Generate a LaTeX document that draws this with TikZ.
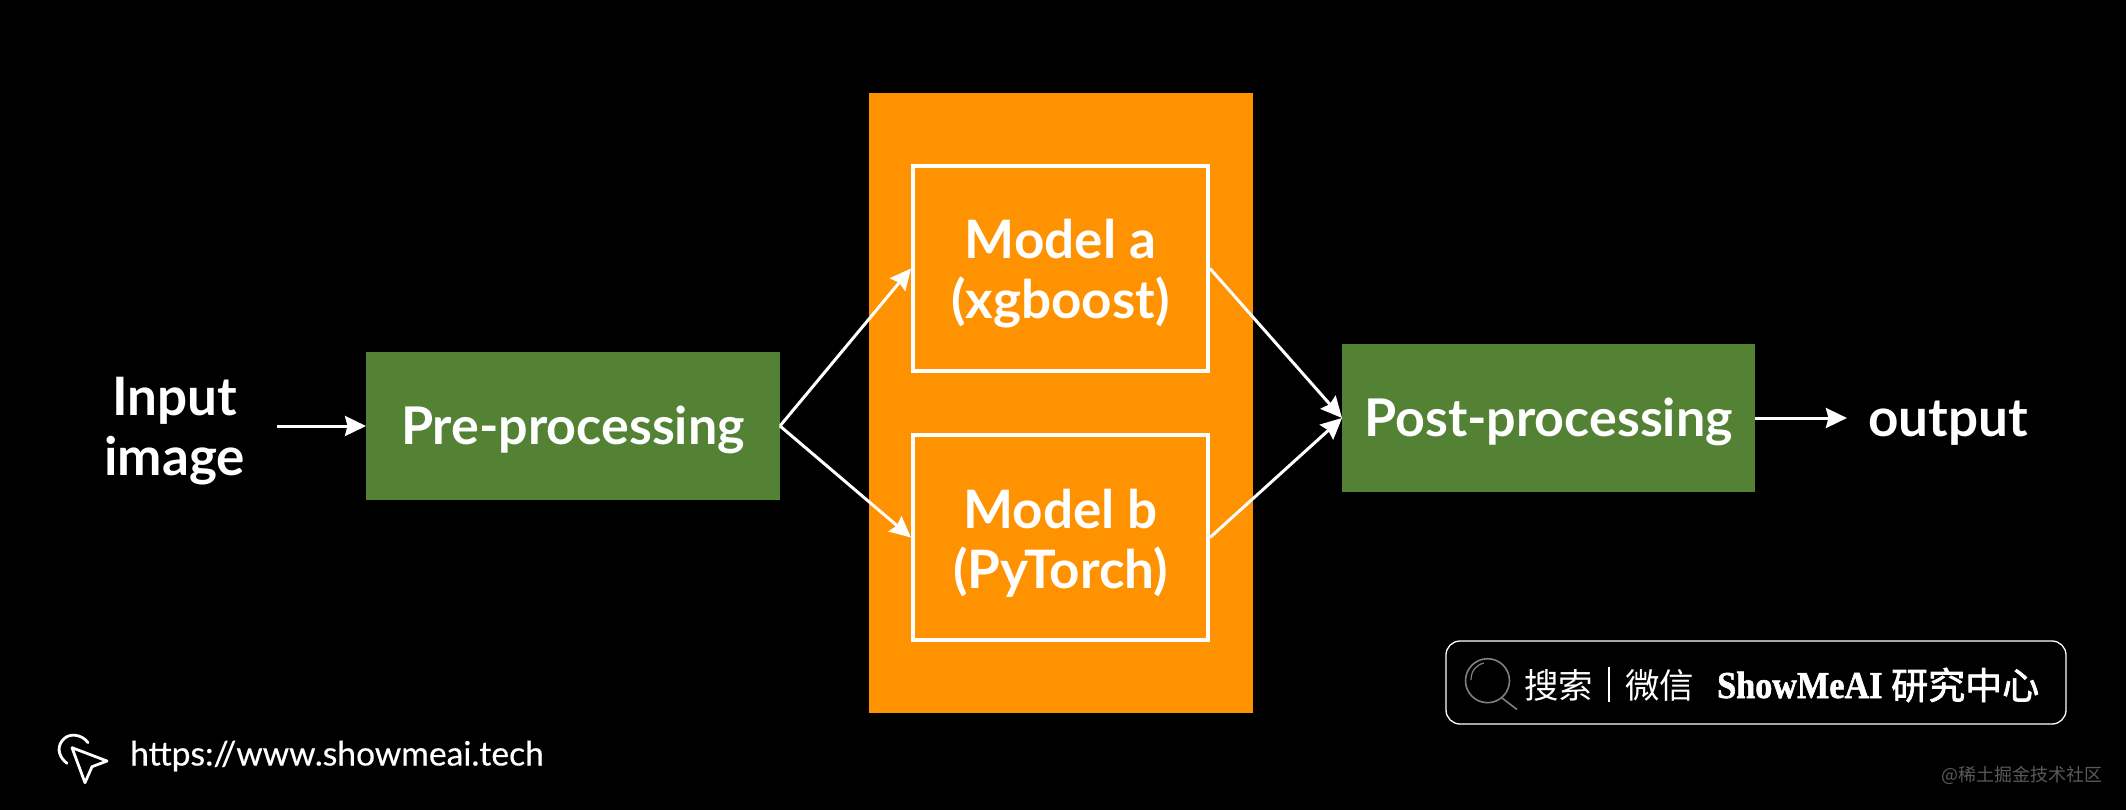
\documentclass[tikz,border=0pt]{standalone}
\usepackage{fontspec}
\setmainfont{Lato}
\newfontfamily\cjk{Noto Sans CJK SC}
\newfontfamily\cjkheavy{Noto Sans CJK SC}[FakeBold=2]
\newfontfamily\brandfont{Liberation Serif Bold}[FakeStretch=0.9,FakeBold=1.5]
\newfontfamily\urlfont{Lato}[FakeBold=0.4]
\usetikzlibrary{arrows.meta}
\definecolor{panelorange}{HTML}{FF9200}
\definecolor{stepgreen}{HTML}{548235}
\definecolor{wmgray}{HTML}{5A5A5A}
\definecolor{lensgray}{HTML}{808080}
\newcommand{\lowerby}[1]{\rule{0pt}{#1pt}}
\tikzset{
  x=1pt,y=-1pt,
  panel/.style={fill=panelorange,draw=none,inner sep=0pt,minimum width=384pt,minimum height=620pt},
  stagebox/.style={fill=stepgreen,draw=none,inner sep=0pt,outer sep=0pt,text=white,font=\bfseries\fontsize{52}{60}\selectfont,minimum width=414pt,minimum height=148pt},
  modelbox/.style={draw=white,line width=4pt,inner sep=0pt,text=white,align=center,font=\bfseries\fontsize{53}{60}\selectfont,minimum width=295pt,minimum height=205pt},
  plain/.style={text=white,inner sep=0pt,align=center,font=\bfseries\fontsize{53}{60}\selectfont},
  conn/.style={draw=white,line width=3pt,-{Stealth[length=21pt,width=20pt,inset=2.5pt]}},
  badge/.style={inner sep=0pt,text=white,anchor=west},
}
\begin{document}
\begin{tikzpicture}
\useasboundingbox (0,0) rectangle (2126,809);
\fill[black] (-5,-5) rectangle (2131,814);
\node[panel] (orange) at (1061,403) {};
\node[stagebox] (pre) at (573,426) {\lowerby{47}Pre-processing};
\node[stagebox,minimum width=413pt] (post) at (1548.5,418) {\lowerby{47}Post-processing};
\node[modelbox] (ma) at (1060.5,268.5) {\lowerby{50}Model a\\(xgboost)};
\node[modelbox] (mb) at (1060.5,537.5) {\lowerby{50}Model b\\(PyTorch)};
\node[plain] (input) at (174.5,431) {Input\\image};
\node[plain] (output) at (1948,423) {output};
\draw[conn] ([xshift=32pt]input.east |- pre.west) -- (pre.west);
\draw[conn] (pre.east) -- (ma.west);
\draw[conn] (pre.east) -- (mb.west);
\draw[conn] (ma.east) -- (post.west);
\draw[conn] (mb.east) -- (post.west);
\draw[conn] (post.east) -- ([xshift=-21pt]output.west |- post.east);
% search badge
\node[draw=white,line width=1.3pt,rounded corners=14pt,minimum width=620pt,minimum height=83pt,inner sep=0pt] (searchbox) at (1756,682.5) {};
\draw[lensgray,line width=1.6pt] (1487.5,680.7) circle (22);
\draw[lensgray,line width=1.2pt] (1471,680) .. controls (1471,671) and (1476,665) .. (1484,663);
\draw[lensgray,line width=1.6pt] (1502,698) -- (1517,709.5);
\node[badge,font=\cjk\fontsize{34.5}{40}\selectfont] (sou) at (1524,685) {搜索};
\node[draw=none,fill=white,inner sep=0pt,minimum width=1.6pt,minimum height=35pt] (sep) at (1609,684.5) {};
\node[badge,font=\cjk\fontsize{34.5}{40}\selectfont] (wei) at (1625,685) {微信};
\node[badge,font=\brandfont\fontsize{38}{42}\selectfont] (brand) at (1717,685) {ShowMeAI};
\node[badge,font=\cjkheavy\fontsize{37}{42}\selectfont] (lab) at (1891,685) {研究中心};
\node[badge,text=wmgray,font=\cjk\fontsize{18}{22}\selectfont] (wm) at (1941,775) {@稀土掘金技术社区};
% url
\draw[white,line width=2.8pt,line cap=round,line join=round] (72,747.7) -- (107,761) -- (92,766.7) -- (85,782.7) -- cycle;
\draw[white,line width=2.8pt,line cap=round] (88,742.7) .. controls (82,734) and (68,732) .. (62,741) .. controls (56,749) and (60,758) .. (67,763.3);
\node[badge,font=\urlfont\fontsize{33.6}{38}\selectfont] (url) at (130,756) {https://www.showmeai.tech};
\end{tikzpicture}
\end{document}
